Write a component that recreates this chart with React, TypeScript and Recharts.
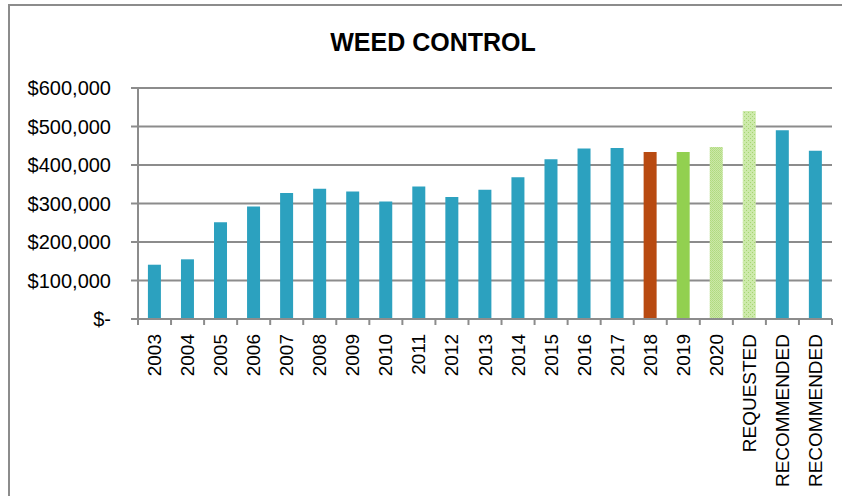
import { BarChart, Bar, XAxis, YAxis, CartesianGrid, Cell } from 'recharts';

const categories = [
  '2003', '2004', '2005', '2006', '2007', '2008', '2009', '2010', '2011', '2012',
  '2013', '2014', '2015', '2016', '2017', '2018', '2019', '2020',
  'REQUESTED', 'RECOMMENDED', 'RECOMMENDED',
];

const amounts = [
  141000, 155000, 251000, 292000, 327000, 338000, 331000, 305000, 344000, 317000,
  336000, 368000, 415000, 443000, 444000, 434000, 434000, 447000,
  540000, 490000, 437000,
];

const yTicks = [0, 100000, 200000, 300000, 400000, 500000, 600000];

const data = categories.map((name, i) => ({ name, amount: amounts[i] }));

const W = 842;
const H = 496;
const M = { top: 88, right: 10, bottom: 0, left: 0 };
const X_AXIS_H = 177;
const Y_AXIS_W = 138;
const STEP = (W - M.left - M.right - Y_AXIS_W) / categories.length;

const GRID = '#8c8c8c';
const FONT = '"Liberation Sans", Arial, sans-serif';

// 2018 rust, 2019 green, 2020 + requested hatched light green, rest teal
const fillFor = (i: number) => {
  const c = categories[i];
  if (c === '2018') return '#b84a11';
  if (c === '2019') return '#92d050';
  if (c === '2020') return 'url(#dots2020)';
  if (c === 'REQUESTED') return 'url(#dotsReq)';
  return '#2ca1bf';
};

const fmtMoney = (v: number) => (v === 0 ? '$-' : '$' + v.toLocaleString('en-US'));

const XTick = (props: any) => {
  const { x, y, payload, index } = props;
  const last = index === categories.length - 1;
  return (
    <g>
      <line x1={x - STEP / 2} x2={x - STEP / 2} y1={y} y2={y + 6} stroke={GRID} strokeWidth={2} />
      {last && <line x1={x + STEP / 2} x2={x + STEP / 2} y1={y} y2={y + 6} stroke={GRID} strokeWidth={2} />}
      <text
        x={x}
        y={y + 15}
        transform={`rotate(-90, ${x}, ${y + 15})`}
        textAnchor="end"
        dominantBaseline="central"
        fontFamily={FONT}
        fontSize={19}
        fill="#000"
      >
        {payload.value}
      </text>
    </g>
  );
};

export default function App() {
  return (
    <div style={{ position: 'fixed', inset: 0, overflow: 'hidden', background: '#fff' }}>
      <div
        style={{
          position: 'absolute', left: 8, top: 4, width: 850, height: 540,
          border: `2px solid ${GRID}`, boxSizing: 'border-box',
        }}
      />
      <div
        style={{
          position: 'absolute', left: 8, width: 850, top: 30, textAlign: 'center',
          fontFamily: FONT, fontWeight: 700, fontSize: 25, lineHeight: '25px', color: '#000',
        }}
      >
        WEED CONTROL
      </div>
      <div style={{ position: 'absolute', left: 0, top: 0 }}>
        <BarChart width={W} height={H} data={data} margin={M} barCategoryGap="30%">
          <defs>
            <pattern id="dots2020" width="2" height="2" patternUnits="userSpaceOnUse">
              <rect width="2" height="2" fill="#cbe8a8" />
              <rect width="1" height="1" fill="#b0da80" />
              <rect x="1" y="1" width="1" height="1" fill="#b6dd88" />
            </pattern>
            <pattern id="dotsReq" width="4" height="4" patternUnits="userSpaceOnUse">
              <rect width="4" height="4" fill="#cdeaab" />
              <rect width="1" height="1" fill="#a5d572" />
              <rect x="2" y="2" width="1" height="1" fill="#a5d572" />
            </pattern>
          </defs>
          <CartesianGrid vertical={false} stroke={GRID} strokeWidth={2} />
          <XAxis
            dataKey="name"
            interval={0}
            axisLine={{ stroke: GRID, strokeWidth: 2 }}
            tickLine={false}
            tickSize={0}
            tickMargin={0}
            tick={<XTick />}
            height={X_AXIS_H}
          />
          <YAxis
            width={Y_AXIS_W}
            domain={[0, 600000]}
            ticks={yTicks}
            interval={0}
            tickFormatter={fmtMoney}
            axisLine={{ stroke: GRID, strokeWidth: 2 }}
            tickLine={{ stroke: GRID, strokeWidth: 2 }}
            tickSize={7}
            tickMargin={20}
            tick={{ fill: '#000', fontSize: 20, fontFamily: FONT }}
          />
          <Bar dataKey="amount" isAnimationActive={false}>
            {data.map((_, i) => (
              <Cell key={i} fill={fillFor(i)} />
            ))}
          </Bar>
        </BarChart>
      </div>
    </div>
  );
}
